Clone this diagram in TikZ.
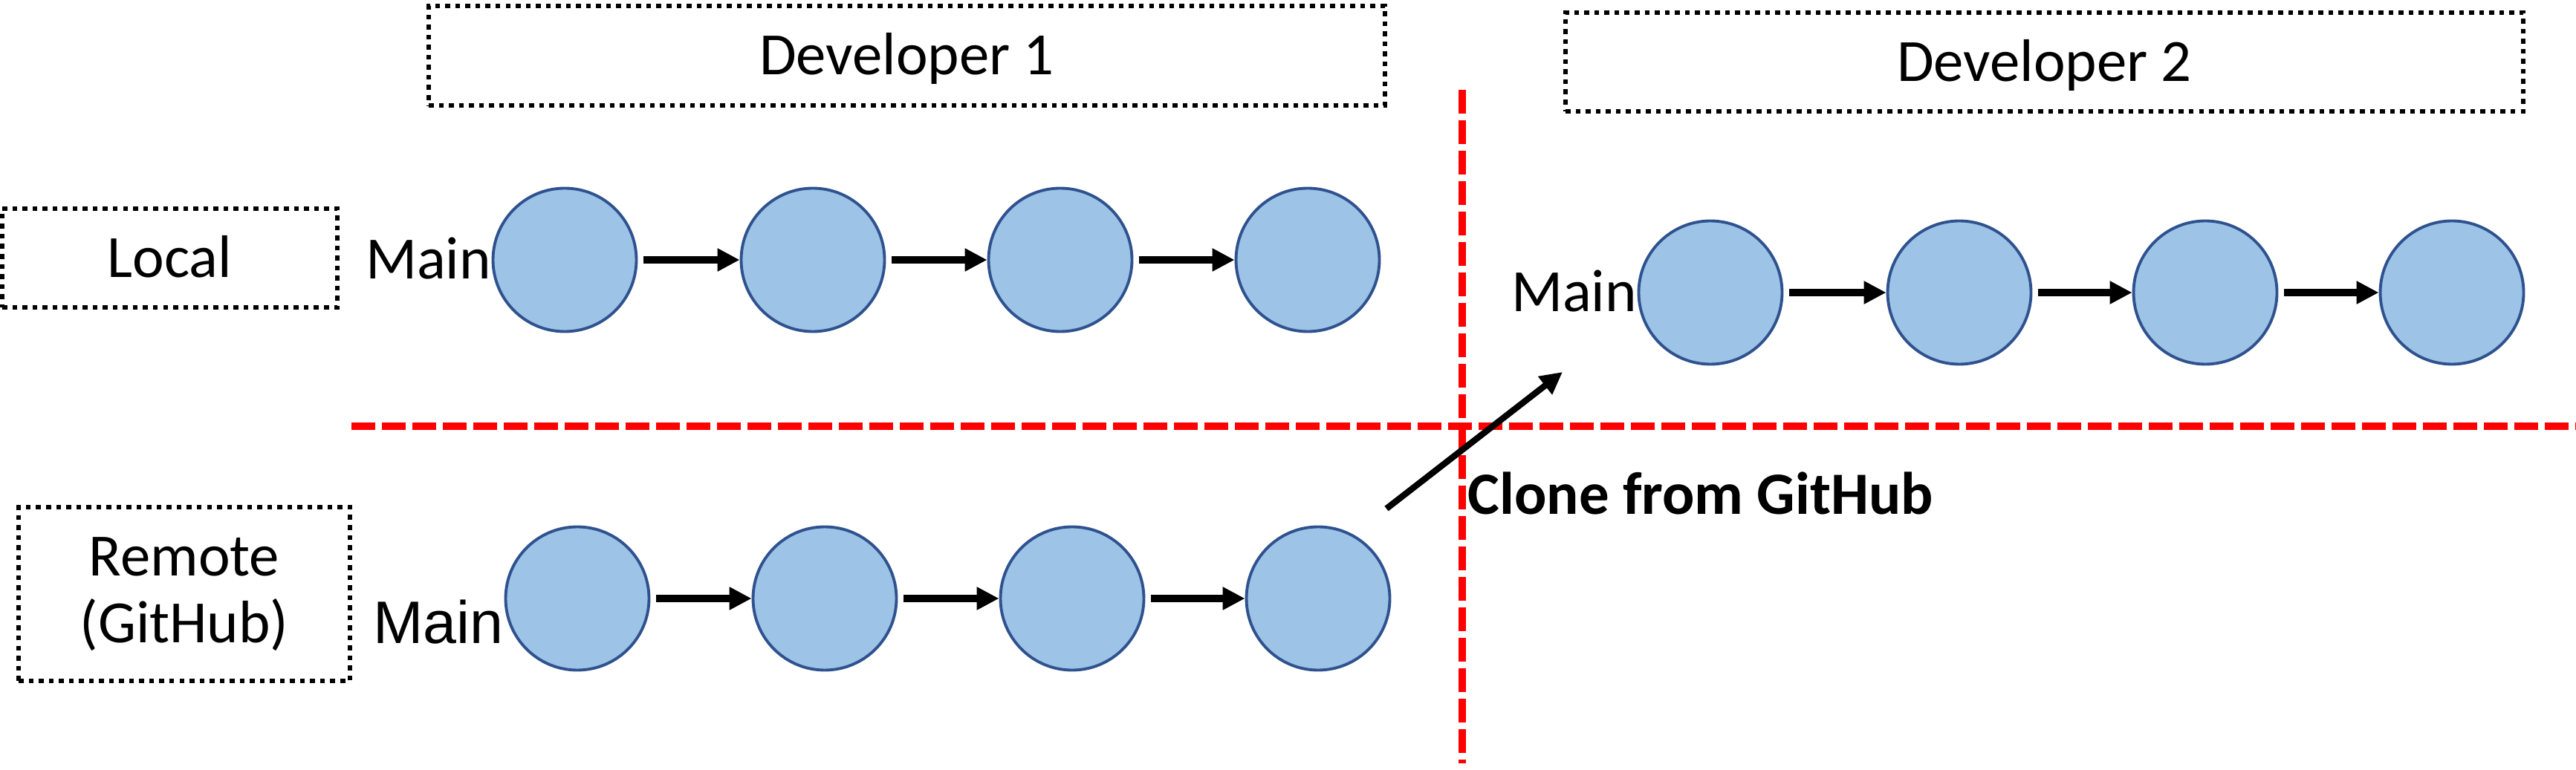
\documentclass[tikz,border=0pt]{standalone}
\usepackage{fontspec}
\setmainfont{Carlito}
\newfontfamily\arialfont{Liberation Sans}
\usetikzlibrary{arrows.meta}
\definecolor{commitfill}{HTML}{9DC3E6}
\definecolor{commitline}{HTML}{2F528F}
\tikzset{
  commit/.style={circle, draw=commitline, fill=commitfill, line width=1.1pt, minimum size=1.93cm, inner sep=0pt},
  titlebox/.style={draw, line width=1.85pt, dash pattern=on 1.85pt off 2pt, inner sep=0pt, font=\fontsize{23}{25.6}\selectfont, align=center},
  onerow/.style={text height=0.52cm, text depth=0pt},
  link/.style={line width=2.85pt, -{Triangle[length=8.5pt,width=8.3pt]}},
  divider/.style={red, line width=2.85pt, dash pattern=on 0.32cm off 0.09cm},
  branch/.style={font=\fontsize{23}{25.6}\selectfont, inner sep=0pt, anchor=east, onerow}
}
\begin{document}
\begin{tikzpicture}
  \useasboundingbox (0,0) rectangle (34.67,10.36);
  % red separators
  \draw[divider] (4.73,4.62) -- (34.67,4.62);
  \draw[divider] (19.68,9.15) -- (19.68,0.08);
  % boxes
  \node[titlebox, onerow, minimum width=12.87cm, minimum height=1.34cm] (dev1box) at (12.205,9.61) {Developer 1};
  \node[titlebox, onerow, minimum width=12.89cm, minimum height=1.33cm] (dev2box) at (27.515,9.525) {Developer 2};
  \node[titlebox, onerow, minimum width=4.51cm, minimum height=1.33cm] (localbox) at (2.285,6.885) {Local};
  \node[titlebox, minimum width=4.46cm, minimum height=2.34cm] (remotebox) at (2.48,2.36) {Remote\\(GitHub)};
  % commits
  \foreach \n/\x in {1/7.60,2/10.94,3/14.27,4/17.60}
    \node[commit] (local\n) at (\x,6.86) {};
  \foreach \n/\x in {1/7.77,2/11.10,3/14.43,4/17.74}
    \node[commit] (remote\n) at (\x,2.30) {};
  \foreach \n/\x in {1/23.02,2/26.37,3/29.68,4/33.00}
    \node[commit] (clone\n) at (\x,6.42) {};
  \foreach \a/\b in {1/2,2/3,3/4} {
    \draw[link, shorten <=0.08cm] (local\a) -- (local\b);
    \draw[link, shorten <=0.08cm] (remote\a) -- (remote\b);
    \draw[link, shorten <=0.08cm] (clone\a) -- (clone\b);
  }
  % branch names
  \node[branch] (localmain) at (local1.west) {Main};
  \node[branch] (clonemain) at (clone1.west) {Main};
  \node[branch, font=\arialfont\fontsize{23}{25.6}\selectfont, text height=0.58cm, yshift=-0.31cm] (remotemain) at (remote1.west) {Main};
  % clone
  \coordinate (clonefrom) at (18.66,3.51);
  \coordinate (cloneto) at (21.03,5.35);
  \draw[link, line width=2.4pt] (clonefrom) -- (cloneto);
  \node[font=\bfseries\fontsize{23}{25.6}\selectfont, onerow, inner sep=0pt, anchor=west] (clonetext) at (19.75,3.69) {Clone from GitHub};
\end{tikzpicture}
\end{document}
